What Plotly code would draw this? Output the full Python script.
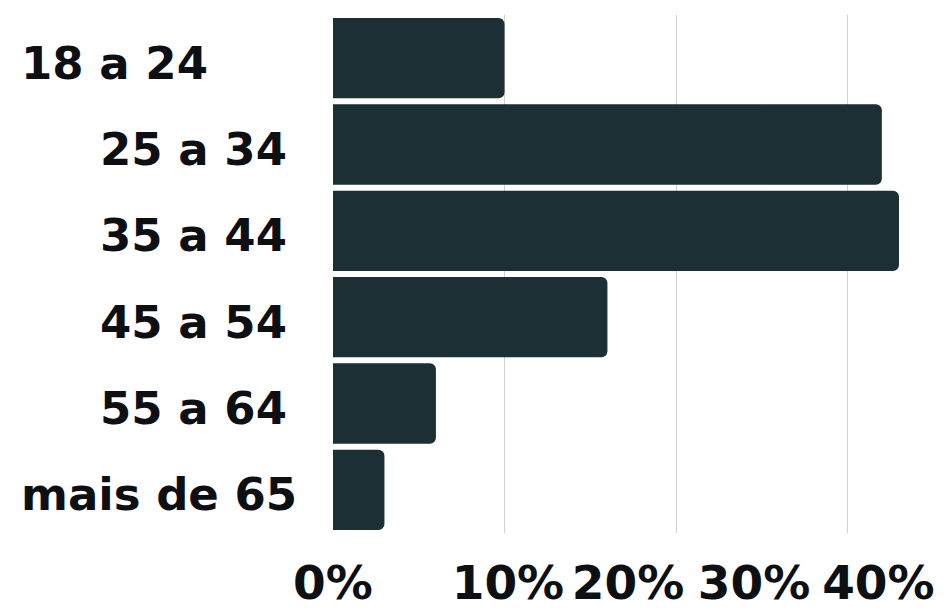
import plotly.graph_objects as go

# ---- data ----
categories = ["18 a 24", "25 a 34", "35 a 44", "45 a 54", "55 a 64", "mais de 65"]
values = [10, 32, 33, 16, 6, 3]
tick_values = [0, 10, 20, 30, 40]
tick_labels = ["0%", "10%", "20%", "30%", "40%"]

# ---- layout constants (page body has an 8px margin) ----
W, H = 938, 602
ML, MR, MT, MB = 325, 0, 7, 77
X_MAX = 35.74
BAR_COLOR = "#1b2f35"
TEXT_COLOR = "#0d0f12"
FONT = "DejaVu Sans"
# displayed positions of the x tick labels (spread to avoid overlap, as in the reference)
label_positions = [0, 10.2, 17.2, 24.55, 31.8]
# y label placement: (x in px from left, anchor)
ylabel_place = [(11, "left"), (281, "right"), (281, "right"), (281, "right"), (281, "right"), (11, "left")]

fig = go.Figure()
fig.add_trace(go.Bar(
    x=values, y=categories, orientation="h",
    marker=dict(color=BAR_COLOR, line=dict(width=0)),
    hoverinfo="skip",
))
# invisible trace on the label axis
fig.add_trace(go.Scatter(x=[1], y=[categories[0]], xaxis="x2", mode="markers",
                         marker=dict(opacity=0), hoverinfo="skip", showlegend=False))

plot_w = W - ML - MR
for cat, (px, anchor) in zip(categories, ylabel_place):
    fig.add_annotation(
        x=(px - ML) / plot_w, xref="paper", y=cat, yref="y",
        text=f"<b>{cat}</b>", showarrow=False, xanchor=anchor, yanchor="middle",
        yshift=-5,
        font=dict(family=FONT, size=45, color=TEXT_COLOR),
    )

fig.update_layout(
    width=W, height=H,
    margin=dict(l=ML, r=MR, t=MT, b=MB, pad=0, autoexpand=False),
    paper_bgcolor="white", plot_bgcolor="white",
    showlegend=False,
    bargap=0.07,
    barcornerradius=6,
    xaxis=dict(
        range=[0, X_MAX], tickvals=tick_values[1:4], showticklabels=False,
        showgrid=True, gridcolor="#d0d0d0", gridwidth=1, automargin=False,
        zeroline=False, showline=False, fixedrange=True,
    ),
    xaxis2=dict(
        range=[0, X_MAX], overlaying="x", side="bottom", anchor="y",
        tickvals=label_positions, ticktext=[f"<b>{t}</b>" for t in tick_labels],
        showgrid=False, zeroline=False, showline=False, automargin=False,
        ticks="outside", ticklen=9, tickcolor="rgba(0,0,0,0)",
        tickfont=dict(family=FONT, size=47, color=TEXT_COLOR),
    ),
    yaxis=dict(
        categoryorder="array", categoryarray=categories, autorange="reversed",
        showticklabels=False, showgrid=False, zeroline=False, showline=False,
        automargin=False,
    ),
)

fig.write_html("out.html")
